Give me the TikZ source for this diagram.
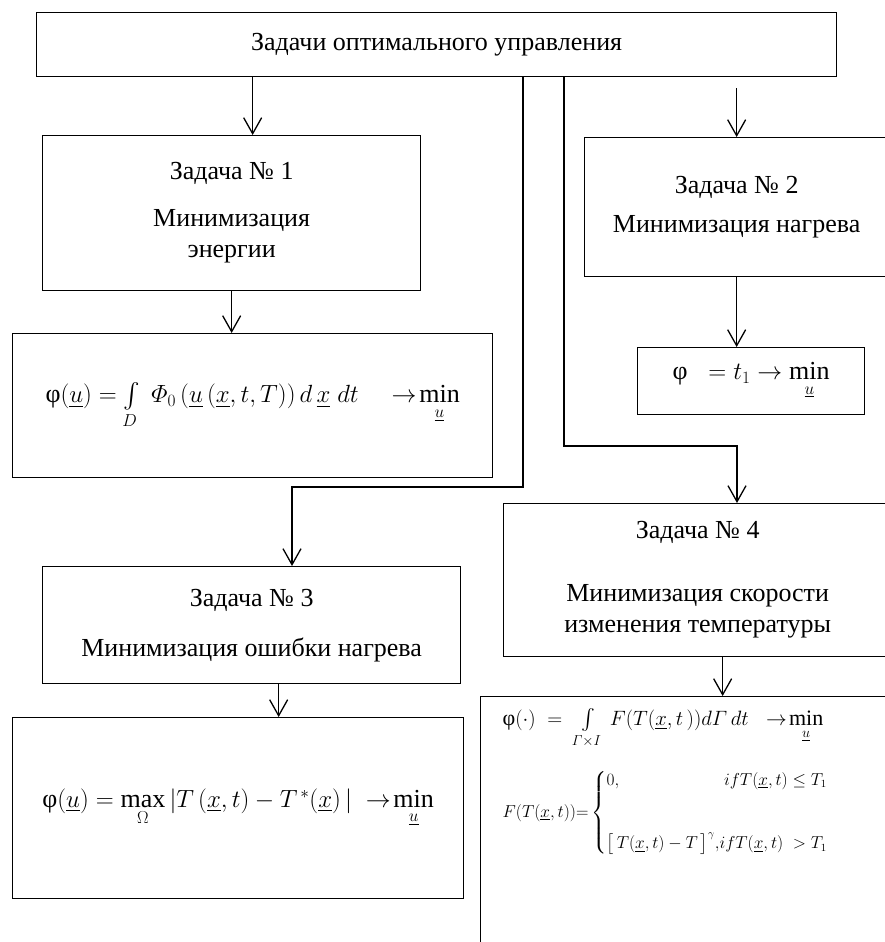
\documentclass[tikz,border=0pt]{standalone}
\usepackage{amsmath}
\usepackage{fontspec}
\setmainfont{Liberation Serif}
\usetikzlibrary{arrows.meta}
\tikzset{>={Straight Barb[length=16pt,width=18pt]}}
\newcommand{\Fi}{\mbox{φ}}

\begin{document}
\begin{tikzpicture}[x=1pt,y=-1pt,line width=1.3pt,
  box/.style={draw,anchor=north west,align=center,inner sep=0pt,font=\fontsize{26}{31}\selectfont}]
\clip (0,0) rectangle (885,942);
\node[box,minimum width=800,minimum height=64] (top) at (36,12) {Задачи оптимального управления};
\node[box,minimum width=378,minimum height=155] (task1) at (42,135) {Задача № 1\\[16pt]Минимизация\\энергии};
\node[box,minimum width=480,minimum height=144] (f1) at (12,333)
  {$\Fi(\underline{u})=\int\limits_{D}\;\varPhi_0\,(\underline{u}\,(\underline{x},t,T))\,d\,\underline{x}\;dt\quad\to\!\mathop{\mathrm{min}}\limits_{\underline{u}}$};
\node[box,minimum width=304,minimum height=139] (task2) at (584,137) {Задача № 2\\[8pt]Минимизация нагрева};
\node[box,minimum width=227,minimum height=67] (f2) at (637,347)
  {$\Fi\;\;=t_1\to\mathop{\mathrm{min}}\limits_{\underline{u}}$};
\node[box,minimum width=418,minimum height=117] (task3) at (42,566) {Задача № 3\\[19pt]Минимизация ошибки нагрева};
\node[box,minimum width=388,minimum height=153] (task4) at (503,503) {Задача № 4\\[32pt]Минимизация скорости\\изменения температуры};
\node[box,minimum width=451,minimum height=181] (f3) at (12,717)
  {$\Fi(\underline{u})=\mathop{\mathrm{max}}\limits_{\Omega}\left|T\,(\underline{x},t)-T^{\,*}(\underline{x})\,\right|\;\to\!\mathop{\mathrm{min}}\limits_{\underline{u}}$};
\node[box,minimum width=420,minimum height=300] (f4) at (480,696) {};
\node[anchor=north west,align=left,inner sep=0pt,font=\fontsize{22}{26}\selectfont] (f4t) at ([shift={(22,12)}]f4.north west)
  {$\Fi(\cdot)\;=\;\int\limits_{\varGamma\times I}\,F(T(\underline{x},t\,))d\varGamma\,dt\;\;\to\!\mathop{\mathrm{min}}\limits_{\underline{u}}$\\[22pt]
   {\fontsize{16}{20}\selectfont$F(T(\underline{x},t)){=}\left\{\begin{array}{@{}l@{}r@{}}0, & ifT(\underline{x},t)\le T_1\\[42pt]
   \bigl[\,T(\underline{x},t)-T\,\bigr]^{\gamma}, & ifT(\underline{x},t)\;>T_1\end{array}\right.$}};
\draw[->] ([xshift=21pt]task1.north |- top.south) -- ([xshift=21pt]task1.north);
\draw[->] (task1.south) -- (task1.south |- f1.north);
\coordinate (k3a) at (523,487);
\coordinate (k3b) at (292,487);
\draw[->] (top.south -| k3a) -- (k3a) -- (k3b) -- (k3b |- task3.north);
\coordinate (k4a) at (564,446);
\coordinate (k4b) at (737,446);
\draw[->] (top.south -| k4a) -- (k4a) -- (k4b) -- (k4b |- task4.north);
\draw[->,shorten <=11pt] (top.south -| task2.north) -- (task2.north);
\draw[->] (task2.south) -- (task2.south |- f2.north);
\draw[->] ([xshift=27pt]task3.south) -- ([xshift=27pt]task3.south |- f3.north);
\draw[->] ([xshift=25pt]task4.south) -- ([xshift=25pt]task4.south |- f4.north);
\end{tikzpicture}
\end{document}
